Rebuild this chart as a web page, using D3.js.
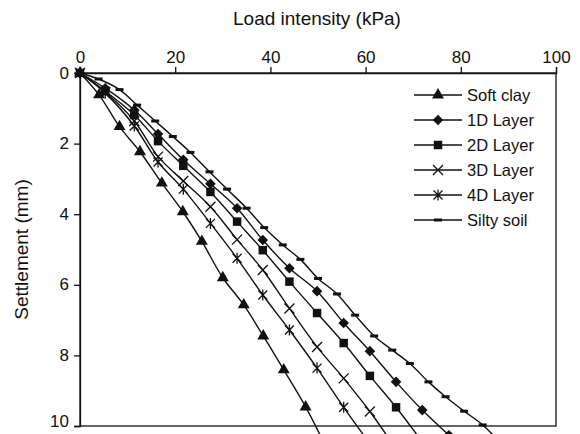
<!DOCTYPE html>
<html>
<head>
<meta charset="utf-8">
<script src="https://cdn.jsdelivr.net/npm/d3@7"></script>
<style>
  html, body { margin: 0; padding: 0; background: #fff; }
  svg { display: block; font-family: "Liberation Sans", Arial, sans-serif; }
</style>
</head>
<body>
<svg id="chart" width="580" height="434"></svg>
<script>
// ---- data ----
const seriesNames = ["Soft clay", "1D Layer", "2D Layer", "3D Layer", "4D Layer", "Silty soil"];

const softClayLoad = [0, 4.0, 8.3, 12.6, 17.2, 21.6, 25.6, 30.0, 34.4, 38.5, 42.8, 47.4, 51.7];
const softClaySettle = [0, 0.62, 1.52, 2.23, 3.12, 3.93, 4.77, 5.80, 6.57, 7.45, 8.41, 9.46, 10.6];

const layerLoad = [0, 5.3, 11.4, 16.4, 21.7, 27.4, 33.0, 38.4, 44.0, 49.8, 55.4, 60.9, 66.4, 71.9, 77.5];
const layer1DSettle = [0, 0.43, 1.05, 1.73, 2.46, 3.14, 3.83, 4.73, 5.53, 6.18, 7.08, 7.88, 8.75, 9.55, 10.26];
const layer2DSettle = [0, 0.51, 1.19, 1.93, 2.63, 3.37, 4.21, 5.02, 5.91, 6.80, 7.65, 8.58, 9.47, 10.45];
const layer3DSettle = [0, 0.54, 1.36, 2.37, 3.06, 3.79, 4.72, 5.58, 6.67, 7.76, 8.65, 9.59, 10.65];
const layer4DSettle = [0, 0.57, 1.50, 2.52, 3.29, 4.26, 5.25, 6.29, 7.28, 8.36, 9.47, 10.5];

const siltyLoad = [0, 3.9, 8.3, 12.0, 15.8, 19.5, 23.2, 27.2, 30.9, 35.0, 38.7, 42.6, 46.3, 50.0, 54.0, 57.8, 61.8, 65.6, 69.3, 73.2, 76.8, 80.7, 84.6, 88.5];
const siltySettle = [0, 0.17, 0.47, 0.91, 1.36, 1.80, 2.25, 2.80, 3.29, 3.83, 4.38, 4.87, 5.28, 5.82, 6.26, 6.86, 7.45, 7.85, 8.23, 8.75, 9.17, 9.58, 9.97, 10.5];

const xTicks = [0, 20, 40, 60, 80, 100];
const yTicks = [0, 2, 4, 6, 8, 10];

// ---- build series ----
function zip(xs, ys) { return ys.map((y, i) => ({ x: xs[i], y: y })); }
const series = [
  { name: seriesNames[0], marker: "triangle", pts: zip(softClayLoad, softClaySettle) },
  { name: seriesNames[1], marker: "diamond", pts: zip(layerLoad, layer1DSettle) },
  { name: seriesNames[2], marker: "square", pts: zip(layerLoad, layer2DSettle) },
  { name: seriesNames[3], marker: "x", pts: zip(layerLoad, layer3DSettle) },
  { name: seriesNames[4], marker: "star", pts: zip(layerLoad, layer4DSettle) },
  { name: seriesNames[5], marker: "dash", pts: zip(siltyLoad, siltySettle) }
];

// ---- layout ----
const W = 580, H = 434;
const m = { left: 80, right: 24, top: 73, bottom: 8 };
const x = d3.scaleLinear().domain([0, 100]).range([m.left, W - m.right]);
const y = d3.scaleLinear().domain([0, 10]).range([m.top, H - m.bottom]);

const svg = d3.select("#chart");

// plot frame
svg.append("rect")
  .attr("x", x(0)).attr("y", y(0))
  .attr("width", x(100) - x(0)).attr("height", y(10) - y(0))
  .attr("fill", "none").attr("stroke", "#111").attr("stroke-width", 1.3);

// axes
const xAxis = svg.append("g").attr("transform", `translate(0,${y(0)})`)
  .call(d3.axisTop(x).tickValues(xTicks).tickSize(6).tickPadding(4));
const yAxis = svg.append("g").attr("transform", `translate(${x(0)},0)`)
  .call(d3.axisLeft(y).tickValues(yTicks).tickSize(6).tickPadding(5));
[xAxis, yAxis].forEach(g => {
  g.select(".domain").attr("stroke", "#111").attr("stroke-width", 1.3);
  g.selectAll(".tick line").attr("stroke", "#111").attr("stroke-width", 1.3);
  g.selectAll(".tick text").attr("fill", "#111")
    .style("font-size", "17px").style("font-family", "'Liberation Sans', Arial, sans-serif");
});
yAxis.selectAll(".tick text").attr("dy", "0.3em");
// keep the last label inside the picture (it sits on the bottom edge)
yAxis.selectAll(".tick").filter(d => d === 10).select("text").attr("dy", "0.05em");

// axis titles
svg.append("text").attr("x", (x(0) + x(100)) / 2 - 1).attr("y", 25)
  .attr("text-anchor", "middle").attr("fill", "#111").style("font-size", "19px")
  .text("Load intensity (kPa)");
svg.append("text")
  .attr("transform", `translate(28,${(y(0) + y(10)) / 2}) rotate(-90)`)
  .attr("text-anchor", "middle").attr("fill", "#111").style("font-size", "19px")
  .text("Settlement (mm)");

// markers
function drawMarker(g, type, cx, cy) {
  const c = "#111";
  if (type === "triangle") {
    g.append("path").attr("d", d3.symbol().type(d3.symbolTriangle).size(62)())
      .attr("transform", `translate(${cx},${cy})`).attr("fill", c);
  } else if (type === "diamond") {
    g.append("path").attr("d", d3.symbol().type(d3.symbolSquare).size(56)())
      .attr("transform", `translate(${cx},${cy}) rotate(45)`).attr("fill", c);
  } else if (type === "square") {
    g.append("path").attr("d", d3.symbol().type(d3.symbolSquare).size(72)())
      .attr("transform", `translate(${cx},${cy})`).attr("fill", c);
  } else if (type === "x") {
    const r = 5;
    g.append("path").attr("d", `M${-r},${-r}L${r},${r}M${-r},${r}L${r},${-r}`)
      .attr("transform", `translate(${cx},${cy})`).attr("stroke", c).attr("stroke-width", 1.3).attr("fill", "none");
  } else if (type === "star") {
    const r = 4.5;
    g.append("path").attr("d", `M${-r},${-r}L${r},${r}M${-r},${r}L${r},${-r}M0,${-r - 1}L0,${r + 1}`)
      .attr("transform", `translate(${cx},${cy})`).attr("stroke", c).attr("stroke-width", 1.3).attr("fill", "none");
  } else if (type === "dash") {
    g.append("rect").attr("x", cx - 4).attr("y", cy - 1.5).attr("width", 8).attr("height", 3).attr("fill", c);
  }
}

// series lines + markers
const line = d3.line().x(d => x(d.x)).y(d => y(d.y)).curve(d3.curveCatmullRom.alpha(0.5));
const plot = svg.append("g");
series.forEach(s => {
  plot.append("path").datum(s.pts).attr("d", line)
    .attr("fill", "none").attr("stroke", "#111").attr("stroke-width", 1.4);
});
series.forEach(s => {
  const g = plot.append("g");
  s.pts.forEach(p => drawMarker(g, s.marker, x(p.x), y(p.y)));
});

// legend
const leg = svg.append("g");
series.forEach((s, i) => {
  const ly = 95 + i * 25;
  leg.append("line").attr("x1", 414).attr("x2", 462).attr("y1", ly).attr("y2", ly)
    .attr("stroke", "#111").attr("stroke-width", 1.4);
  drawMarker(leg, s.marker, 438, ly);
  leg.append("text").attr("x", 467).attr("y", ly).attr("dy", "0.35em")
    .attr("fill", "#111").style("font-size", "16.5px").text(s.name);
});
</script>
</body>
</html>
